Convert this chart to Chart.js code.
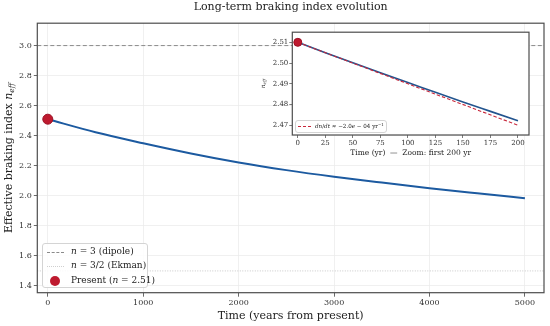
<!DOCTYPE html>
<html>
<head>
<meta charset="utf-8">
<script src="https://cdn.jsdelivr.net/npm/chart.js@4.4.1/dist/chart.umd.min.js"></script>
<style>
  html, body { margin: 0; padding: 0; background: #fff; }
  #wrap { position: relative; width: 550px; height: 326px; font-family: 'DejaVu Serif', serif; color: #222; }
  #mainChart { position: absolute; left: 0; top: 0; }
  #insetChart { position: absolute; left: 258px; top: 27px; }
  .legend { position: absolute; background: rgba(255,255,255,0.85); border: 1px solid #d4d4d4; border-radius: 3px; }
  .swatch { position: absolute; height: 0; }
  .lbl { position: absolute; line-height: 1; white-space: nowrap; }
  #mainLegend { left: 42px; top: 243px; width: 104px; height: 43px; font-size: 9px; }
  #insetLegend { left: 295px; top: 120px; width: 90px; height: 11px; font-size: 5.6px; }
  sup { font-size: 70%; vertical-align: 0; position: relative; top: -0.5em; }
</style>
</head>
<body>
<div id="wrap">
  <canvas id="mainChart" width="550" height="326"></canvas>
  <canvas id="insetChart" width="276" height="138"></canvas>
  <div id="mainLegend" class="legend">
    <div class="swatch" style="left:4px; top:8px; width:17px; border-top:1px dashed #8a8a8a;"></div>
    <div class="lbl" style="left:28px; top:3px;"><i>n</i> = 3 (dipole)</div>
    <div class="swatch" style="left:4px; top:22px; width:17px; border-top:1px dotted #cfcfcf;"></div>
    <div class="lbl" style="left:28px; top:17px;"><i>n</i> = 3/2 (Ekman)</div>
    <div class="swatch" style="left:7px; top:32px; width:10px; height:10px; border-radius:50%; background:#be1a2f;"></div>
    <div class="lbl" style="left:28px; top:32px;">Present (<i>n</i> = 2.51)</div>
  </div>
  <div id="insetLegend" class="legend">
    <div class="swatch" style="left:2px; top:5px; width:13px; border-top:1px dashed #c8283c;"></div>
    <div class="lbl" style="left:19px; top:2.5px;"><i>dn</i>/<i>dt</i> ≈ −2.0<i>e</i> − 04 yr<sup>−1</sup></div>
  </div>
</div>
<script>
// Long-term braking index evolution (main curve + 200 yr zoom inset)

var years = [0, 500, 1000, 1500, 2000, 2500, 3000, 3500, 4000, 4500, 5000];
var nEff = [2.51, 2.423, 2.35, 2.282, 2.222, 2.171, 2.127, 2.088, 2.051, 2.017, 1.984];

var presentYear = [0];
var presentN = [2.51];

var refLabels = ['n = 3 (dipole)', 'n = 3/2 (Ekman)'];
var refLevels = [3.0, 1.5];

var xTicks = [0, 1000, 2000, 3000, 4000, 5000];
var yTicks = [1.4, 1.6, 1.8, 2.0, 2.2, 2.4, 2.6, 2.8, 3.0];

var zoomYears = [0, 25, 50, 75, 100, 125, 150, 175, 200];
var zoomN = [2.51, 2.5050, 2.5001, 2.4953, 2.4906, 2.4859, 2.4812, 2.4767, 2.4722];
var trendYears = [0, 200];
var trendN = [2.51, 2.47];

var zoomXTicks = [0, 25, 50, 75, 100, 125, 150, 175, 200];
var zoomYTicks = [2.47, 2.48, 2.49, 2.50, 2.51];

var BLUE = '#1c5aa0';
var RED = '#be1a2f';
var FONT = "'DejaVu Serif', serif";

Chart.defaults.font.family = FONT;
Chart.defaults.color = '#333';

function pts(xs, ys) {
    return xs.map(function(x, i) { return { x: x, y: ys[i] }; });
}

// full frame around plot area, optional white fill
function framePlugin(fill) {
    return {
        id: 'frame',
        beforeDatasetsDraw: function(chart) {
            if (!fill) return;
            var a = chart.chartArea, ctx = chart.ctx;
            ctx.save();
            ctx.fillStyle = '#fff';
            ctx.fillRect(a.left, a.top, a.right - a.left, a.bottom - a.top);
            ctx.restore();
        },
        afterDraw: function(chart) {
            var a = chart.chartArea, ctx = chart.ctx;
            ctx.save();
            ctx.strokeStyle = '#4d4d4d';
            ctx.lineWidth = 1.2;
            ctx.strokeRect(a.left, a.top, a.right - a.left, a.bottom - a.top);
            ctx.restore();
        }
    };
}

// rotated y title with italic n and subscript eff
function yTitlePlugin(x, parts) {
    return {
        id: 'ytitle',
        afterDraw: function(chart) {
            var ctx = chart.ctx, a = chart.chartArea;
            var cy = (a.top + a.bottom) / 2;
            var total = 0;
            parts.forEach(function(p) { ctx.font = p.font; total += ctx.measureText(p.text).width; });
            ctx.save();
            ctx.translate(x, cy);
            ctx.rotate(-Math.PI / 2);
            ctx.fillStyle = '#222';
            ctx.textBaseline = 'middle';
            var cx = -total / 2;
            parts.forEach(function(p) {
                ctx.font = p.font;
                ctx.fillText(p.text, cx, p.dy || 0);
                cx += ctx.measureText(p.text).width;
            });
            ctx.restore();
        }
    };
}

function fixedTicks(list) {
    return function(scale) { scale.ticks = list.map(function(v) { return { value: v }; }); };
}

new Chart(document.getElementById('mainChart'), {
    type: 'line',
    data: {
        datasets: [
            {
                label: 'Present (n = 2.51)',
                data: pts(presentYear, presentN),
                showLine: false,
                pointRadius: 5,
                backgroundColor: RED,
                borderColor: '#9c1024',
                borderWidth: 1,
                order: 0
            },
            {
                label: 'n_eff',
                data: pts(years, nEff),
                borderColor: BLUE,
                borderWidth: 2,
                pointRadius: 0,
                cubicInterpolationMode: 'monotone',
                order: 1
            },
            {
                label: refLabels[0],
                data: pts([-110, 5200], [refLevels[0], refLevels[0]]),
                borderColor: '#8a8a8a',
                borderWidth: 1,
                borderDash: [4, 2.5],
                pointRadius: 0,
                order: 2
            },
            {
                label: refLabels[1],
                data: pts([-110, 5200], [refLevels[1], refLevels[1]]),
                borderColor: '#c8c8c8',
                borderWidth: 1,
                borderDash: [1, 1.5],
                pointRadius: 0,
                order: 2
            }
        ]
    },
    options: {
        responsive: false,
        animation: false,
        devicePixelRatio: 1,
        layout: { padding: { left: 0, right: 4, top: 0, bottom: 0 } },
        plugins: {
            legend: { display: false },
            tooltip: { enabled: false },
            title: {
                display: true,
                fullSize: false,
                text: 'Long-term braking index evolution',
                color: '#222',
                font: { size: 11, weight: 'normal' },
                padding: { top: 1, bottom: 9 }
            }
        },
        scales: {
            x: {
                type: 'linear',
                min: -110,
                max: 5200,
                afterBuildTicks: fixedTicks(xTicks),
                afterFit: function(s) { s.height = 33.3; },
                grid: { color: '#ececec', lineWidth: 0.8, tickLength: 4, tickColor: '#444' },
                border: { display: false },
                ticks: { font: { size: 8 }, padding: 1, maxRotation: 0, callback: function(v) { return String(v); } },
                title: { display: true, text: 'Time (years from present)', color: '#222', font: { size: 11 }, padding: { bottom: 3 } }
            },
            y: {
                type: 'linear',
                min: 1.355,
                max: 3.149,
                afterBuildTicks: fixedTicks(yTicks),
                afterFit: function(s) { s.width = 37.3; },
                grid: { color: '#ececec', lineWidth: 0.8, tickLength: 3.5, tickColor: '#444' },
                border: { display: false },
                ticks: { font: { size: 8 }, padding: 2, callback: function(v) { return v.toFixed(1); } }
            }
        }
    },
    plugins: [framePlugin(false), yTitlePlugin(9, [
        { text: 'Effective braking index ', font: '11px ' + FONT },
        { text: 'n', font: 'italic 11px ' + FONT },
        { text: 'eff', font: 'italic 7.5px ' + FONT, dy: 3 }
    ])]
});

new Chart(document.getElementById('insetChart'), {
    type: 'line',
    data: {
        datasets: [
            {
                label: 'present',
                data: pts(presentYear, presentN),
                showLine: false,
                pointRadius: 4,
                backgroundColor: RED,
                borderColor: '#9c1024',
                borderWidth: 1,
                order: 0
            },
            {
                label: 'dn/dt',
                data: pts(trendYears, trendN),
                borderColor: '#c8283c',
                borderWidth: 1.1,
                borderDash: [3.5, 2],
                pointRadius: 0,
                order: 1
            },
            {
                label: 'n_eff',
                data: pts(zoomYears, zoomN),
                borderColor: '#23558f',
                borderWidth: 1.6,
                pointRadius: 0,
                cubicInterpolationMode: 'monotone',
                order: 2
            }
        ]
    },
    options: {
        responsive: false,
        animation: false,
        devicePixelRatio: 1,
        layout: { padding: { left: 0, right: 4, top: 2.3, bottom: 0 } },
        plugins: { legend: { display: false }, tooltip: { enabled: false } },
        scales: {
            x: {
                type: 'linear',
                min: -5,
                max: 210,
                afterBuildTicks: fixedTicks(zoomXTicks),
                afterFit: function(s) { s.height = 30; },
                grid: { color: '#ececec', lineWidth: 0.7, tickLength: 3, tickColor: '#444' },
                border: { display: false },
                ticks: { font: { size: 7 }, padding: 1, maxRotation: 0, autoSkip: false, callback: function(v) { return String(v); } },
                title: { display: true, text: 'Time (yr)  —  Zoom: first 200 yr', color: '#222', font: { size: 7.5 }, padding: { bottom: 7 } }
            },
            y: {
                type: 'linear',
                min: 2.4653,
                max: 2.5149,
                afterBuildTicks: fixedTicks(zoomYTicks),
                afterFit: function(s) { s.width = 34.3; },
                grid: { color: '#ececec', lineWidth: 0.7, tickLength: 3, tickColor: '#444' },
                border: { display: false },
                ticks: { font: { size: 7 }, padding: 1, callback: function(v) { return v.toFixed(2); } }
            }
        }
    },
    plugins: [framePlugin(true), yTitlePlugin(5.3, [
        { text: 'n', font: 'italic 6px ' + FONT },
        { text: 'eff', font: 'italic 4.2px ' + FONT, dy: 1.6 }
    ])]
});
</script>
</body>
</html>
